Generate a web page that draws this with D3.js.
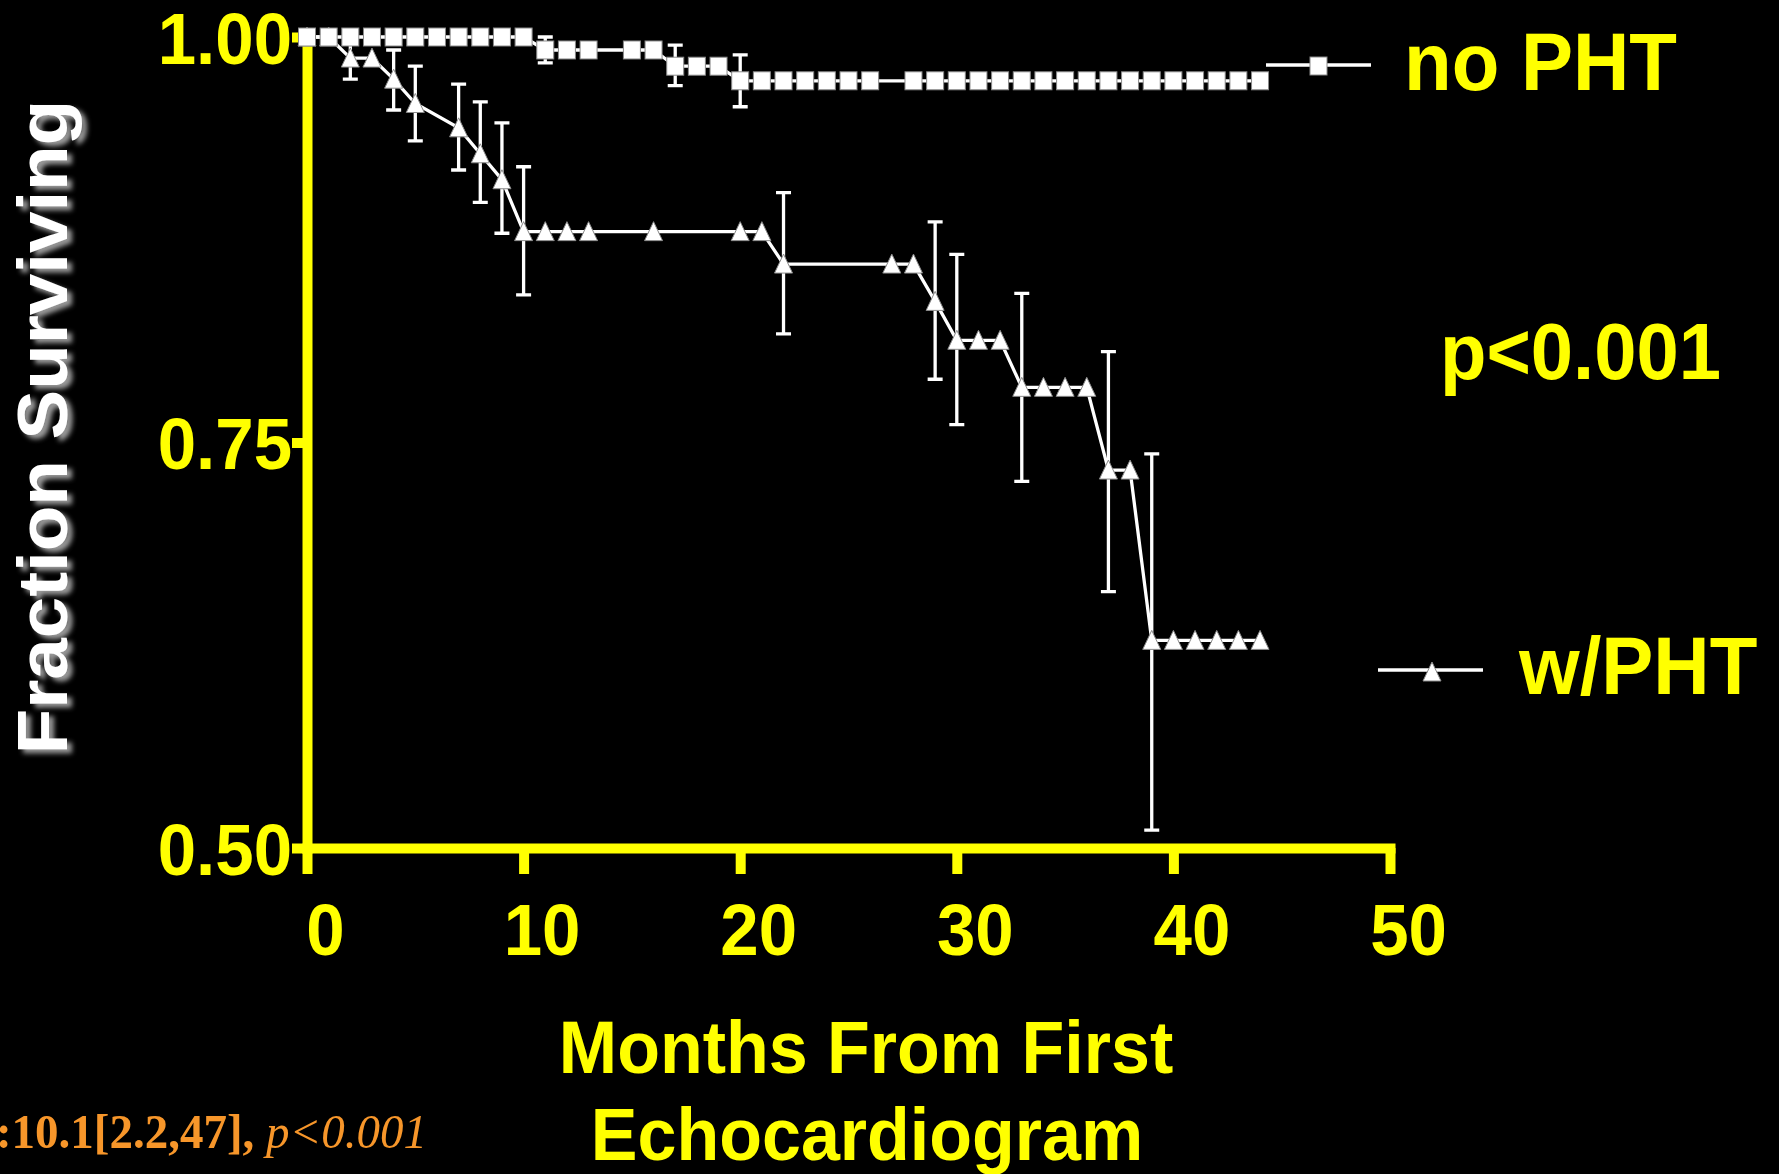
<!DOCTYPE html>
<html lang="en">
<head>
<meta charset="UTF-8">
<title>Fraction Surviving</title>
<script src="https://d3js.org/d3.v7.min.js"></script>
<style>
  body { margin: 0; background: #000; }
  svg { display: block; background: #000; }
  .yellow-text {
    fill: #ffff00;
    font-family: "Liberation Sans", Arial, sans-serif;
    font-weight: bold;
  }
  .axis .domain, .axis .tick line {
    stroke: #ffff00;
    stroke-width: 10;
  }
  .axis .domain { stroke-linecap: square; }
  .series { fill: none; stroke: #fff; stroke-width: 3.3; }
  .errbar { stroke: #fff; stroke-width: 3.3; }
  .marker { fill: #fff; stroke: #8a8a8a; stroke-width: 1; }
</style>
</head>
<body>
<div id="chart"></div>
<script>
// no PHT (squares)
const noPhtMonths = [0, 1, 2, 3, 4, 5, 6, 7, 8, 9, 10, 11, 12, 13, 15, 16, 17, 18, 19,
  20, 21, 22, 23, 24, 25, 26, 28, 29, 30, 31, 32, 33, 34, 35, 36, 37, 38, 39, 40, 41, 42, 43, 44];
const noPhtSurv = [1.000, 1.000, 1.000, 1.000, 1.000, 1.000, 1.000, 1.000, 1.000, 1.000, 1.000,
  0.992, 0.992, 0.992, 0.992, 0.992, 0.982, 0.982, 0.982,
  0.973, 0.973, 0.973, 0.973, 0.973, 0.973, 0.973, 0.973, 0.973, 0.973, 0.973, 0.973, 0.973,
  0.973, 0.973, 0.973, 0.973, 0.973, 0.973, 0.973, 0.973, 0.973, 0.973, 0.973];
const noPhtErrMonths = [11, 17, 20];
const noPhtErrLow = [0.984, 0.970, 0.957];
const noPhtErrHigh = [1.000, 0.995, 0.989];

// w/PHT (triangles)
const phtMonths = [0, 1, 2, 3, 4, 5, 7, 8, 9, 10, 11, 12, 13, 16, 20, 21, 22, 27, 28, 29,
  30, 31, 32, 33, 34, 35, 36, 37, 38, 39, 40, 41, 42, 43, 44];
const phtSurv = [1.000, 1.000, 0.987, 0.987, 0.974, 0.959, 0.944, 0.928, 0.912,
  0.880, 0.880, 0.880, 0.880, 0.880, 0.880, 0.880, 0.860, 0.860, 0.860, 0.837,
  0.813, 0.813, 0.813, 0.784, 0.784, 0.784, 0.784, 0.733, 0.733,
  0.628, 0.628, 0.628, 0.628, 0.628, 0.628];
const phtErrMonths = [2, 4, 5, 7, 8, 9, 10, 22, 29, 30, 33, 37, 39];
const phtErrLow = [0.974, 0.955, 0.936, 0.918, 0.898, 0.879, 0.841, 0.817, 0.789, 0.761, 0.726, 0.658, 0.511];
const phtErrHigh = [1.000, 0.992, 0.982, 0.971, 0.960, 0.947, 0.920, 0.904, 0.886, 0.866, 0.842, 0.806, 0.743];

const xTicks = [0, 10, 20, 30, 40, 50];
const yTicks = [0.50, 0.75, 1.00];

const width = 1779, height = 1174;
const stretch = "scale(1,1.05)"; // slide text is a bit taller than wide

const x = d3.scaleLinear().domain([0, 50]).range([307, 1390]);
const y = d3.scaleLinear().domain([0.5, 1]).range([848, 37]);

const svg = d3.select("#chart").append("svg")
  .attr("width", width)
  .attr("height", height);

// shadow for the y title
svg.append("defs").append("filter")
  .attr("id", "shadow")
  .attr("x", "-20%").attr("y", "-20%").attr("width", "140%").attr("height", "140%")
  .append("feDropShadow")
  .attr("dx", 5).attr("dy", 4).attr("stdDeviation", 2.5)
  .attr("flood-color", "#9a9a9a").attr("flood-opacity", 1);

// axes
const gy = svg.append("g")
  .attr("class", "axis")
  .attr("transform", `translate(${x(0)},0)`)
  .call(d3.axisLeft(y).tickValues(yTicks).tickFormat(d3.format(".2f"))
    .tickSize(15).tickSizeOuter(0).tickPadding(0));
gy.selectAll(".tick text")
  .attr("class", "yellow-text")
  .attr("font-size", 69)
  .attr("x", -15)
  .attr("y", 25)
  .attr("dy", null)
  .attr("transform", stretch);

const gx = svg.append("g")
  .attr("class", "axis")
  .attr("transform", `translate(0,${y(0.5)})`)
  .call(d3.axisBottom(x).tickValues(xTicks).tickFormat(d3.format("d"))
    .tickSize(26).tickSizeOuter(0));
gx.selectAll(".tick text")
  .attr("class", "yellow-text")
  .attr("font-size", 69)
  .attr("x", 18)
  .attr("y", 102)
  .attr("dy", null)
  .attr("transform", stretch);
gx.attr("font-family", null);
gy.attr("font-family", null);

// series
const line = d3.line().x(d => x(d[0])).y(d => y(d[1]));
const tri = "M0,-10L9,9L-9,9Z";

function drawSeries(months, surv, errM, errLo, errHi, kind) {
  const g = svg.append("g");
  g.selectAll(".errbar-v")
    .data(errM.map((m, i) => [m, errLo[i], errHi[i]]))
    .enter().append("path")
    .attr("class", "errbar")
    .attr("fill", "none")
    .attr("d", d => {
      const cx = x(d[0]), y0 = y(d[1]), y1 = y(d[2]);
      return `M${cx},${y0}V${y1}M${cx - 7.5},${y0}H${cx + 7.5}M${cx - 7.5},${y1}H${cx + 7.5}`;
    });
  const pts = months.map((m, i) => [m, surv[i]]);
  g.append("path").attr("class", "series").attr("d", line(pts));
  if (kind === "square") {
    g.selectAll("rect").data(pts).enter().append("rect")
      .attr("class", "marker")
      .attr("x", d => x(d[0]) - 8.5)
      .attr("y", d => y(d[1]) - 9)
      .attr("width", 17).attr("height", 18);
  } else {
    g.selectAll(".tri").data(pts).enter().append("path")
      .attr("class", "marker")
      .attr("d", tri)
      .attr("transform", d => `translate(${x(d[0])},${y(d[1])})`);
  }
}

drawSeries(phtMonths, phtSurv, phtErrMonths, phtErrLow, phtErrHigh, "triangle");
drawSeries(noPhtMonths, noPhtSurv, noPhtErrMonths, noPhtErrLow, noPhtErrHigh, "square");

// legend
const leg1 = svg.append("g");
leg1.append("path").attr("class", "series").attr("d", "M1266,65H1371");
leg1.append("rect").attr("class", "marker").attr("x", 1310).attr("y", 57).attr("width", 17).attr("height", 18);
leg1.append("text").attr("class", "yellow-text").attr("font-size", 78)
  .attr("transform", `translate(1404,90) ${stretch}`).text("no PHT");

const leg2 = svg.append("g");
leg2.append("path").attr("class", "series").attr("d", "M1378,670H1483");
leg2.append("path").attr("class", "marker").attr("d", tri).attr("transform", "translate(1432,672)");
leg2.append("text").attr("class", "yellow-text").attr("font-size", 78)
  .attr("transform", `translate(1519,694) ${stretch}`).text("w/PHT");

svg.append("text").attr("class", "yellow-text").attr("font-size", 76)
  .attr("transform", `translate(1440,379) ${stretch}`).text("p<0.001");

// axis titles
svg.append("text").attr("class", "yellow-text").attr("font-size", 70)
  .attr("text-anchor", "middle")
  .attr("transform", `translate(866,1073) ${stretch}`).text("Months From First");
svg.append("text").attr("class", "yellow-text").attr("font-size", 70)
  .attr("text-anchor", "middle")
  .attr("transform", `translate(867,1160) ${stretch}`).text("Echocardiogram");

svg.append("g").attr("filter", "url(#shadow)")
  .append("text")
  .attr("fill", "#fff")
  .attr("font-family", "'Liberation Sans', Arial, sans-serif")
  .attr("font-weight", "bold")
  .attr("font-size", 71)
  .attr("text-anchor", "middle")
  .attr("transform", `translate(67,427) ${stretch} rotate(-90)`)
  .text("Fraction Surviving");

// hazard ratio note, cut off at the left edge
const note = svg.append("text")
  .attr("font-family", "'Liberation Serif', 'Times New Roman', serif")
  .attr("font-size", 47)
  .attr("fill", "#f7962a")
  .attr("text-anchor", "end")
  .attr("style", "white-space: pre")
  .attr("transform", `translate(427,1148) ${stretch}`);
note.append("tspan").attr("font-weight", "bold").text(":10.1[2.2,47], ");
note.append("tspan").attr("font-style", "italic").text("p<0.001");
</script>
</body>
</html>
